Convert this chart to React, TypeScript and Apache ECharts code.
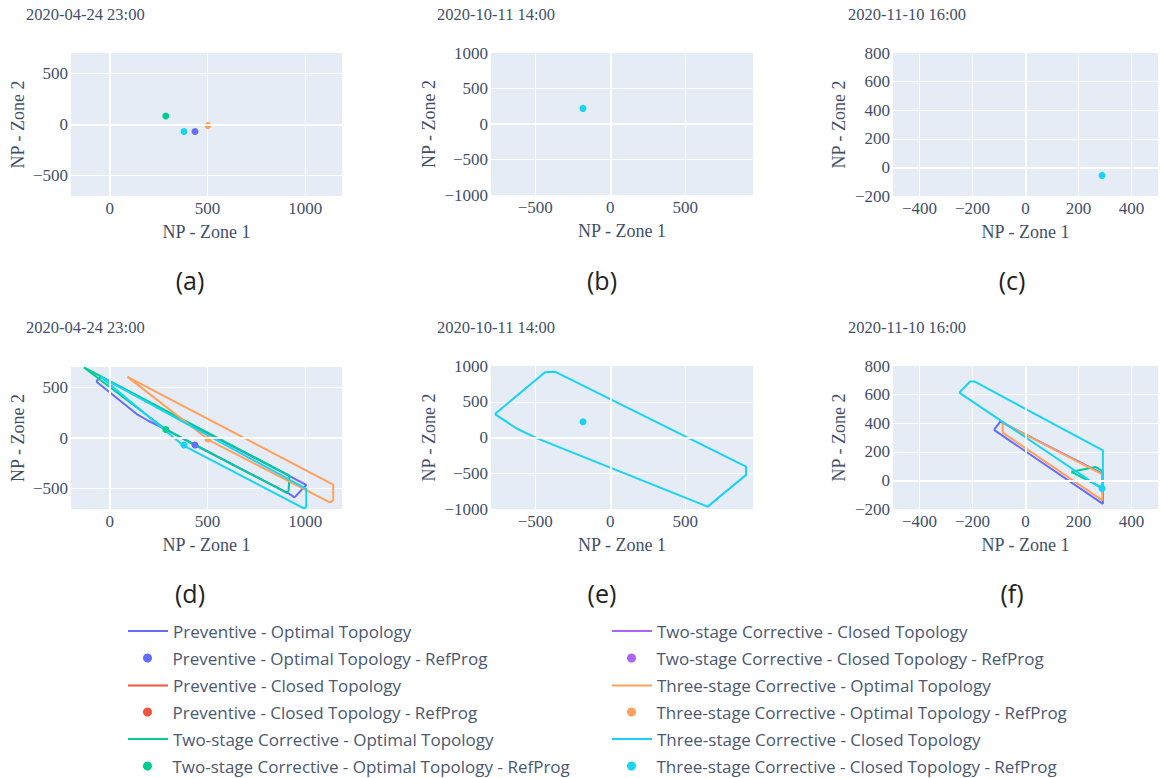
import React, { useEffect, useRef } from 'react';
import * as echarts from 'echarts';

// ---------- data ----------
const panelTitles = ['2020-04-24 23:00', '2020-10-11 14:00', '2020-11-10 16:00', '2020-04-24 23:00', '2020-10-11 14:00', '2020-11-10 16:00'];
const panelLabels = ['(a)', '(b)', '(c)', '(d)', '(e)', '(f)'];
const xRanges = [[-198, 1188], [-795, 951], [-500, 500], [-198, 1188], [-795, 951], [-500, 500]];
const yRanges = [[-700, 700], [-1000, 1000], [-200, 800], [-700, 700], [-1000, 1000], [-200, 800]];
const xSteps = [500, 500, 200, 500, 500, 200];
const ySteps = [500, 500, 200, 500, 500, 200];
const xAxisTitle = 'NP - Zone 1';
const yAxisTitle = 'NP - Zone 2';

const seriesNames = [
  'Preventive - Optimal Topology',
  'Preventive - Optimal Topology - RefProg',
  'Preventive - Closed Topology',
  'Preventive - Closed Topology - RefProg',
  'Two-stage Corrective - Optimal Topology',
  'Two-stage Corrective - Optimal Topology - RefProg',
  'Two-stage Corrective - Closed Topology',
  'Two-stage Corrective - Closed Topology - RefProg',
  'Three-stage Corrective - Optimal Topology',
  'Three-stage Corrective - Optimal Topology - RefProg',
  'Three-stage Corrective - Closed Topology',
  'Three-stage Corrective - Closed Topology - RefProg',
];
const seriesColors = ['#636efa', '#636efa', '#EF553B', '#EF553B', '#00cc96', '#00cc96', '#ab63fa', '#ab63fa', '#FFA15A', '#FFA15A', '#19d3f3', '#19d3f3'];

// panel (a)
const aPrevOptPt = [[436, -69]];
const aTwoOptPt = [[287, 84]];
const aThreeOptPt = [[502, -10]];
const aThreeClosedPt = [[380, -69]];
// panel (b)
const bThreeClosedPt = [[-182, 220]];
// panel (c)
const cThreeClosedPt = [[289, -56]];
// panel (d)
const dPrevOpt = [[-69, 557], [-46, 603], [1005, -463], [945, -585], [919, -551], [436, -69], [284, 88], [197, 170], [138, 236], [-69, 557]];
const dPrevOptPt = [[436, -69]];
const dTwoOpt = [[-132, 695], [919, -371], [915, -519], [906, -542], [287, 84], [-132, 695]];
const dTwoOptPt = [[287, 84]];
const dThreeOpt = [[91, 603], [1143, -460], [1143, -617], [1126, -634], [507, -20], [91, 603]];
const dThreeOptPt = [[502, -10]];
const dThreeClosed = [[-46, 603], [1005, -502], [1005, -683], [993, -693], [378, -76], [-46, 603]];
const dThreeClosedPt = [[380, -69]];
// panel (e)
const eThreeClosed = [[-769, 328], [-624, 126], [-491, -9], [649, -967], [905, -523], [905, -406], [-369, 921], [-435, 912], [-769, 328]];
const eThreeClosedPt = [[-182, 220]];
// panel (f)
const fPrevOpt = [[-119, 353], [-95, 411], [292, 45], [292, -164], [-119, 353]];
const fTwoOpt = [[173, 60], [265, 93], [290, 65], [290, -52], [173, 60]];
const fThreeOpt = [[-86, 404], [-86, 334], [290, -140], [290, 42], [-86, 404]];
const fThreeClosed = [[-250, 614], [-209, 692], [-193, 692], [292, 210], [292, -63], [-250, 614]];
const fThreeClosedPt = [[289, -56]];

// ---------- layout ----------
const grids = [
  { left: 71, top: 53, width: 271, height: 143 },
  { left: 491, top: 53, width: 262, height: 142 },
  { left: 893, top: 53, width: 271, height: 143 },
  { left: 71, top: 367, width: 271, height: 142 },
  { left: 491, top: 366, width: 262, height: 143 },
  { left: 893, top: 366, width: 271, height: 143 },
];
const titlePos = [[26, 6], [437, 6], [848, 6], [26, 319], [437, 319], [848, 319]];
const labelPos = [[190, 280], [602, 280], [1012, 280], [190, 593], [602, 593], [1012, 593]];
const yNameGaps = [44, 53, 45, 44, 53, 45];
const legendCols = [128, 612];
const legendRows = [631, 658, 685.5, 712, 739, 766];

const SLATE = '#3f4f69';
const SERIF = '"Liberation Serif", "Times New Roman", serif';
const SANS = '"Open Sans", "Noto Sans", sans-serif';

const fmt = (step: number) => (v: number) => {
  if (Math.abs(v % step) > 1e-6) return '';
  return v < 0 ? '\u2212' + Math.abs(v) : String(v);
};

function lineS(name: string, grid: number, data: number[][]) {
  const idx = seriesNames.indexOf(name);
  return {
    type: 'line', name, xAxisIndex: grid, yAxisIndex: grid, data,
    color: seriesColors[idx], symbol: 'none', showSymbol: false,
    lineStyle: { width: 2, color: seriesColors[idx] }, z: 3,
  };
}
function ptS(name: string, grid: number, data: number[][]) {
  const idx = seriesNames.indexOf(name);
  return {
    type: 'scatter', name, xAxisIndex: grid, yAxisIndex: grid, data,
    color: seriesColors[idx], symbol: 'circle', symbolSize: 7,
    itemStyle: { color: seriesColors[idx], opacity: 1 }, z: 4,
  };
}

export default function App() {
  const ref = useRef<HTMLDivElement>(null);
  useEffect(() => {
    if (!ref.current) return;
    const chart = echarts.init(ref.current, null, { renderer: 'svg' });
    const N = seriesNames;
    const series: any[] = [];
    for (let g = 0; g < 6; g++) {
      series.push({
        type: 'line', name: '_zero' + g, xAxisIndex: g, yAxisIndex: g, data: [], silent: true, z: 1,
        markLine: {
          silent: true, symbol: 'none', label: { show: false },
          lineStyle: { color: '#ffffff', width: 2, type: 'solid' },
          data: [{ xAxis: 0 }, { yAxis: 0 }],
        },
      });
    }
    // panel a
    series.push(ptS(N[1], 0, aPrevOptPt));
    series.push(lineS(N[2], 0, []));
    series.push(ptS(N[3], 0, []));
    series.push(ptS(N[5], 0, aTwoOptPt));
    series.push(lineS(N[6], 0, []));
    series.push(ptS(N[7], 0, []));
    series.push(ptS(N[9], 0, aThreeOptPt));
    series.push(ptS(N[11], 0, aThreeClosedPt));
    // panel b
    series.push(ptS(N[11], 1, bThreeClosedPt));
    // panel c
    series.push(ptS(N[11], 2, cThreeClosedPt));
    // panel d
    series.push(lineS(N[0], 3, dPrevOpt));
    series.push(ptS(N[1], 3, dPrevOptPt));
    series.push(lineS(N[4], 3, dTwoOpt));
    series.push(ptS(N[5], 3, dTwoOptPt));
    series.push(lineS(N[8], 3, dThreeOpt));
    series.push(ptS(N[9], 3, dThreeOptPt));
    series.push(lineS(N[10], 3, dThreeClosed));
    series.push(ptS(N[11], 3, dThreeClosedPt));
    // panel e
    series.push(lineS(N[10], 4, eThreeClosed));
    series.push(ptS(N[11], 4, eThreeClosedPt));
    // panel f
    series.push(lineS(N[0], 5, fPrevOpt));
    series.push(lineS(N[4], 5, fTwoOpt));
    series.push(lineS(N[8], 5, fThreeOpt));
    series.push(lineS(N[10], 5, fThreeClosed));
    series.push(ptS(N[11], 5, fThreeClosedPt));

    const legends = seriesNames.map((name, i) => {
      const col = i < 6 ? 0 : 1;
      const row = i % 6;
      const isLine = row % 2 === 0;
      return {
        show: true,
        left: legendCols[col] + (isLine ? 0 : 15), top: legendRows[row] - 9,
        padding: 0, itemWidth: 40, itemHeight: 9, selectedMode: true,
        data: [{ name, icon: isLine ? 'path://M0,0H40V2.2H0Z' : 'circle' }],
        textStyle: { fontFamily: SANS, fontSize: 17, lineHeight: 18, color: '#4a5870' },
      };
    });

    const option: any = {
      animation: false,
      backgroundColor: '#ffffff',
      title: panelTitles.map((t, i) => ({
        text: t, left: titlePos[i][0], top: titlePos[i][1], padding: 0,
        textStyle: { fontFamily: SERIF, fontSize: 16.5, fontWeight: 'normal', color: SLATE },
      })),
      grid: grids.map((g) => ({ ...g, show: true, backgroundColor: '#E5ECF6', borderWidth: 0, containLabel: false })),
      xAxis: grids.map((_, i) => ({
        type: 'value', gridIndex: i, min: xRanges[i][0], max: xRanges[i][1], splitNumber: xSteps[i] === 200 ? 5 : 3,
        axisLine: { show: false }, axisTick: { show: false },
        splitLine: { show: true, showMinLine: false, showMaxLine: false, lineStyle: { color: '#ffffff', width: 1 } },
        axisLabel: { formatter: fmt(xSteps[i]), margin: 4, fontFamily: SERIF, fontSize: 17, color: SLATE },
        name: xAxisTitle, nameLocation: 'middle', nameGap: 27,
        nameTextStyle: { fontFamily: SERIF, fontSize: 18, color: SLATE },
      })),
      yAxis: grids.map((_, i) => ({
        type: 'value', gridIndex: i, min: yRanges[i][0], max: yRanges[i][1], splitNumber: ySteps[i] === 200 ? 5 : (yRanges[i][1] - yRanges[i][0] > 1500 ? 4 : 3),
        axisLine: { show: false }, axisTick: { show: false },
        splitLine: { show: true, showMinLine: false, showMaxLine: false, lineStyle: { color: '#ffffff', width: 1 } },
        axisLabel: { formatter: fmt(ySteps[i]), margin: 3, fontFamily: SERIF, fontSize: 17, color: SLATE },
        name: yAxisTitle, nameLocation: 'middle', nameGap: yNameGaps[i],
        nameTextStyle: { fontFamily: SERIF, fontSize: 18, color: SLATE },
      })),
      legend: legends,
      graphic: panelLabels.map((t, i) => ({
        type: 'text', x: labelPos[i][0], y: labelPos[i][1],
        style: { text: t, font: '25px ' + SANS, fill: '#222222', textAlign: 'center', textVerticalAlign: 'middle' },
      })),
      series,
    };
    chart.setOption(option);
    return () => chart.dispose();
  }, []);
  return <div ref={ref} style={{ position: 'absolute', left: 0, top: 0, width: 1161, height: 778 }} />;
}
